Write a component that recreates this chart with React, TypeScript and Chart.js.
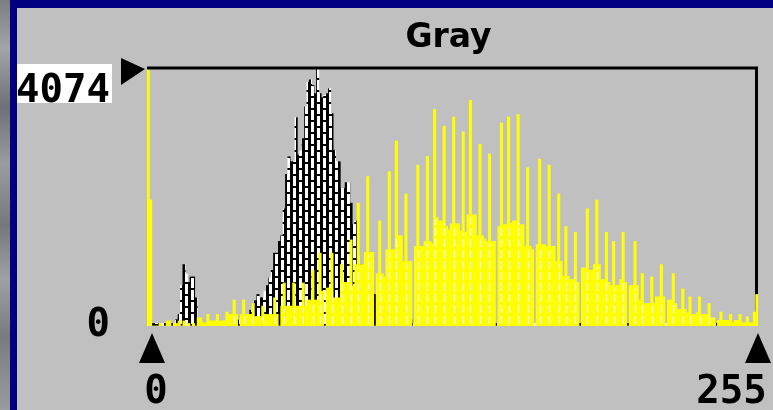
import React, { useEffect, useRef } from 'react';
import { Chart, registerables } from 'chart.js';

Chart.register(...registerables);

const titleText = 'Gray';
const yMax = 4074;
const yTickLabels = ['0', '4074'];
const xTickLabels = ['0', '255'];
const bins: string[] = Array.from({ length: 256 }, (_, i) => String(i));

// Yellow histogram (drawn in front)
const overlayValues = [
  4074, 1990, 0, 0, 0, 40, 0, 0, 80, 80, 0, 40, 40, 80, 0, 80,
  0, 40, 0, 40, 0, 130, 130, 50, 50, 183, 80, 80, 80, 183, 80, 80,
  80, 220, 183, 183, 410, 183, 0, 183, 410, 183, 183, 183, 356, 150, 150, 150,
  314, 183, 183, 183, 183, 445, 183, 0, 314, 680, 314, 314, 314, 680, 314, 314,
  314, 680, 314, 410, 410, 880, 410, 410, 1150, 550, 0, 600, 600, 1150, 445, 445,
  445, 970, 690, 690, 690, 1360, 630, 970, 1940, 970, 970, 1163, 2360, 1163, 1163, 0,
  828, 1660, 828, 775, 1205, 2440, 1205, 1205, 2920, 1425, 1425, 1020, 2085, 1020, 1020, 0,
  1258, 2540, 1258, 1258, 1336, 2680, 1336, 1300, 3420, 1713, 1660, 1660, 3155, 1572, 1520, 1614,
  3300, 1614, 1614, 1500, 3065, 1478, 1755, 3565, 1755, 1755, 1425, 2870, 1425, 1373, 1336, 2720,
  1336, 1336, 0, 1572, 3205, 1600, 1600, 3300, 1624, 1660, 1660, 3340, 1600, 1600, 1258, 2500,
  1258, 1205, 0, 1284, 2635, 1284, 1284, 1258, 2540, 1258, 1258, 1022, 2085, 1022, 786, 1572,
  786, 734, 734, 1478, 690, 0, 917, 917, 1850, 880, 880, 970, 1990, 970, 734, 734,
  1478, 690, 640, 1336, 640, 640, 734, 1478, 690, 0, 640, 640, 1336, 640, 410, 828,
  356, 356, 356, 775, 356, 460, 460, 970, 460, 0, 410, 410, 828, 356, 262, 262,
  587, 262, 210, 460, 183, 183, 210, 460, 183, 183, 183, 356, 130, 130, 0, 90,
  220, 90, 90, 90, 183, 52, 90, 90, 183, 52, 52, 147, 52, 52, 220, 498,
];

// Black (striped) histogram (drawn behind)
const grayValues = [
  0, 0, 40, 40, 40, 0, 40, 40, 0, 0, 40, 40, 100, 183, 640, 970,
  820, 690, 775, 775, 445, 0, 0, 0, 0, 0, 0, 0, 0, 0, 0, 0,
  0, 0, 0, 0, 0, 0, 95, 0, 0, 0, 0, 250, 300, 400, 498, 445,
  445, 550, 640, 760, 880, 1150, 1150, 1336, 1425, 1850, 2395, 2672, 2594, 2594, 3290, 2700,
  2767, 2960, 3460, 3850, 3888, 3800, 3670, 4074, 3670, 3605, 3640, 3670, 3747, 3354, 2777, 2594,
  2594, 2175, 2175, 2264, 2264, 1940, 1600, 1660, 1100, 970, 800, 700, 600, 550, 520, 500,
  400, 300, 250, 200, 150, 100, 100, 100, 100, 100, 100, 100, 100, 100, 100, 40,
  0, 0, 0, 0, 0, 0, 0, 0, 0, 0, 0, 0, 0, 0, 0, 0,
  0, 0, 0, 0, 0, 0, 0, 0, 0, 0, 0, 0, 0, 0, 0, 0,
  0, 0, 40, 0, 0, 0, 0, 0, 0, 0, 0, 0, 0, 0, 0, 0,
  0, 0, 40, 0, 0, 0, 0, 0, 0, 0, 0, 0, 0, 0, 0, 0,
  0, 0, 0, 0, 0, 40, 0, 0, 0, 0, 0, 0, 0, 0, 0, 0,
  0, 0, 0, 0, 0, 0, 0, 0, 0, 40, 0, 0, 0, 0, 0, 0,
  0, 0, 0, 0, 0, 0, 0, 0, 0, 40, 0, 0, 0, 0, 0, 0,
  0, 0, 0, 0, 0, 0, 0, 0, 0, 0, 0, 0, 0, 0, 40, 0,
  0, 0, 0, 0, 0, 0, 0, 0, 0, 0, 0, 0, 0, 0, 0, 0,
];

function makeStripePattern(): CanvasPattern | string {
  const c = document.createElement('canvas');
  c.width = 12;
  c.height = 12;
  const g = c.getContext('2d');
  if (!g) return '#000000';
  g.fillStyle = '#000000';
  g.fillRect(0, 0, 12, 12);
  g.fillStyle = '#ffffff';
  g.fillRect(0, 0, 3, 10);
  g.fillRect(6, 6, 3, 6);
  g.fillRect(6, 0, 3, 4);
  return g.createPattern(c, 'repeat') || '#000000';
}

const monoFont = 'bold 39px "DejaVu Sans Mono"';

const decorPlugin = {
  id: 'decor',
  beforeDatasetsDraw(chart: any) {
    const { ctx, chartArea: a } = chart;
    ctx.save();
    ctx.fillStyle = '#000000';
    ctx.fillRect(a.right - 3, a.top, 3, a.bottom - a.top);
    ctx.restore();
  },
  afterDatasetsDraw(chart: any) {
    // white dotted cores in the comb spikes of the yellow histogram
    const { ctx, scales } = chart;
    const ys = scales.y;
    const meta = chart.getDatasetMeta(0);
    const d = chart.data.datasets[0].data as number[];
    const y0 = ys.getPixelForValue(0);
    ctx.save();
    ctx.strokeStyle = '#ffffff';
    ctx.lineWidth = 1.2;
    ctx.setLineDash([8, 3]);
    for (let i = 1; i < d.length - 1; i++) {
      const n = Math.max(d[i - 1], d[i + 1]);
      if (n > 100 && d[i] > 1.4 * n) {
        const el = meta.data[i];
        const x = Math.round(el.x) + 0.5;
        ctx.beginPath();
        ctx.moveTo(x, y0 - 2);
        ctx.lineTo(x, ys.getPixelForValue(n) + 2);
        ctx.stroke();
      }
    }
    ctx.restore();
  },
  afterDraw(chart: any) {
    const { ctx, chartArea: a, scales } = chart;
    const ys = scales.y;
    const xs = scales.x;
    const yTop = ys.getPixelForValue(yMax);
    const yBot = ys.getPixelForValue(0);
    ctx.save();
    ctx.fillStyle = '#000000';
    // top frame line
    ctx.fillRect(a.left, yTop - 1.5, a.right - a.left, 3);

    // title
    ctx.font = 'bold 33px "DejaVu Sans"';
    ctx.textAlign = 'center';
    ctx.textBaseline = 'alphabetic';
    ctx.fillText(titleText, (a.left + a.right) / 2 - 4, yTop - 21);

    // y max label with white box
    ctx.fillStyle = '#ffffff';
    ctx.fillRect(0, yTop - 4, 95, 39);
    ctx.fillStyle = '#000000';
    ctx.font = monoFont;
    ctx.textAlign = 'right';
    ctx.fillText(yTickLabels[1], 93, yTop + 34);
    ctx.fillText(yTickLabels[0], 93, yBot + 10);

    // right-pointing marker
    ctx.beginPath();
    ctx.moveTo(104, yTop - 10);
    ctx.lineTo(128, yTop + 1);
    ctx.lineTo(104, yTop + 17);
    ctx.closePath();
    ctx.fill();

    // up-pointing markers
    const x0 = xs.left + 5;
    const x1 = xs.right;
    [x0, x1].forEach((px: number) => {
      ctx.beginPath();
      ctx.moveTo(px, yBot + 7);
      ctx.lineTo(px + 13, yBot + 37);
      ctx.lineTo(px - 13, yBot + 37);
      ctx.closePath();
      ctx.fill();
    });

    // x labels
    ctx.font = monoFont;
    ctx.textAlign = 'center';
    ctx.fillText(xTickLabels[0], xs.left + 9, yBot + 77);
    ctx.fillText(xTickLabels[1], xs.right - 26.5, yBot + 77);
    ctx.restore();
  },
};

export default function App() {
  const ref = useRef<HTMLCanvasElement | null>(null);

  useEffect(() => {
    if (!ref.current) return;
    const stripes = makeStripePattern();
    const chart = new Chart(ref.current, {
      type: 'bar',
      data: {
        labels: bins,
        datasets: [
          {
            label: 'overlay',
            data: overlayValues,
            backgroundColor: '#ffff00',
            borderWidth: 0,
            grouped: false,
            barPercentage: 1,
            categoryPercentage: 1,
          } as any,
          {
            label: 'gray',
            data: grayValues,
            backgroundColor: stripes as any,
            borderWidth: 0,
            grouped: false,
            barPercentage: 1,
            categoryPercentage: 1,
          } as any,
        ],
      },
      options: {
        animation: false,
        responsive: false,
        maintainAspectRatio: false,
        events: [],
        layout: { padding: { left: 130, right: 15, top: 60, bottom: 84 } },
        plugins: {
          legend: { display: false },
          tooltip: { enabled: false },
          title: { display: false },
        },
        scales: {
          x: { type: 'category', display: false, offset: true },
          y: { type: 'linear', display: false, min: 0, max: yMax },
        },
      },
      plugins: [decorPlugin],
    });
    return () => chart.destroy();
  }, []);

  return (
    <div
      style={{
        position: 'fixed',
        left: 0,
        top: 0,
        width: 773,
        height: 410,
        overflow: 'hidden',
        background: '#c0c0c0',
      }}
    >
      <div
        style={{
          position: 'absolute',
          left: 0,
          top: 0,
          width: 10,
          height: 410,
          background:
            'linear-gradient(180deg, #7d7e82 0%, #a3a4a8 12%, #6f7075 26%, #9b9ca0 40%, #76777b 55%, #a0a1a5 68%, #7a7b7f 82%, #9a9b9f 100%)',
        }}
      />
      <div style={{ position: 'absolute', left: 10, top: 0, width: 7, height: 410, background: '#000080' }} />
      <div style={{ position: 'absolute', left: 10, top: 0, width: 763, height: 8, background: '#000080' }} />
      <canvas
        ref={ref}
        width={756}
        height={402}
        style={{ position: 'absolute', left: 17, top: 8, width: 756, height: 402 }}
      />
    </div>
  );
}
